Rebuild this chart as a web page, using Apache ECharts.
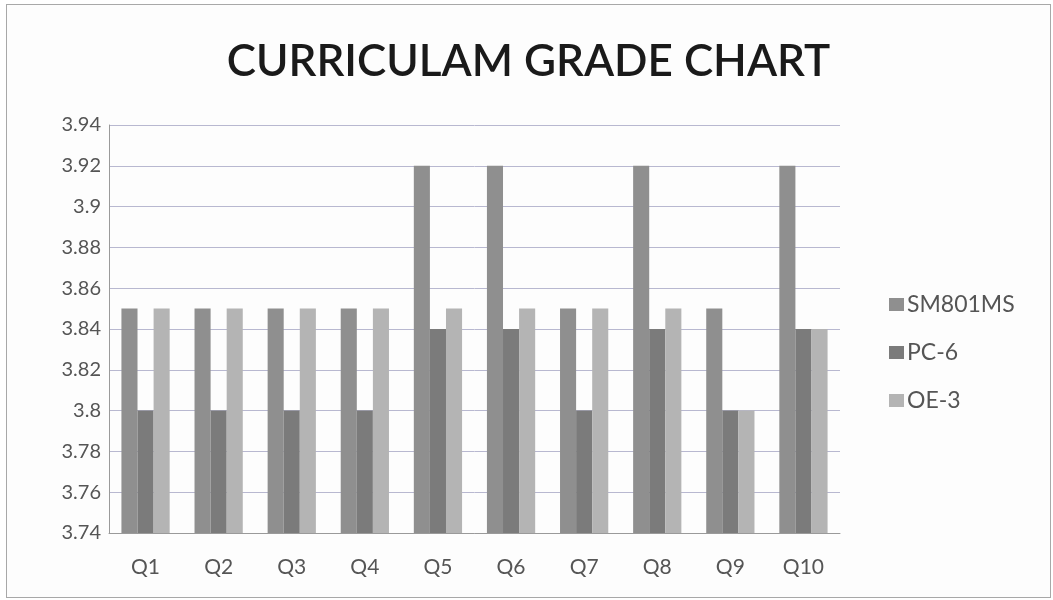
<!DOCTYPE html>
<html>
<head>
<meta charset="utf-8">
<script src="https://cdn.jsdelivr.net/npm/echarts@6/dist/echarts.min.js"></script>
<style>
  html, body { margin: 0; padding: 0; background: #ffffff; }
  #chart { position: absolute; left: 6px; top: 4px; width: 1045px; height: 594px; border: 1px solid #a8a8a8; box-sizing: border-box; background: #fdfdfd; }
</style>
</head>
<body>
<div id="chart"></div>
<script>
const categories = ['Q1', 'Q2', 'Q3', 'Q4', 'Q5', 'Q6', 'Q7', 'Q8', 'Q9', 'Q10'];
const sm801ms = [3.85, 3.85, 3.85, 3.85, 3.92, 3.92, 3.85, 3.92, 3.85, 3.92];
const pc6 = [3.80, 3.80, 3.80, 3.80, 3.84, 3.84, 3.80, 3.84, 3.80, 3.84];
const oe3 = [3.85, 3.85, 3.85, 3.85, 3.85, 3.85, 3.85, 3.85, 3.80, 3.84];

const labelFont = 'Lato, "Open Sans", sans-serif';

const option = {
  animation: false,
  title: {
    text: 'CURRICULAM GRADE CHART',
    left: 'center',
    top: 30,
    textStyle: { fontFamily: labelFont, fontSize: 44, fontWeight: 600, color: '#1a1a1a' }
  },
  color: ['#8f8f8f', '#7b7b7b', '#b4b4b4'],
  legend: {
    orient: 'vertical',
    left: 877,
    top: 283,
    itemWidth: 15,
    itemHeight: 13,
    itemGap: 25,
    icon: 'rect',
    textStyle: { fontFamily: labelFont, fontSize: 23, color: '#555', padding: [0, 0, 0, -2] },
    data: ['SM801MS', 'PC-6', 'OE-3']
  },
  grid: { left: 102, right: 210, top: 120, bottom: 64 },
  xAxis: {
    type: 'category',
    data: categories,
    axisLine: { lineStyle: { color: '#9a9a9a' } },
    axisTick: { show: false },
    axisLabel: { fontFamily: labelFont, fontSize: 21, color: '#555', margin: 24 }
  },
  yAxis: {
    type: 'value',
    min: 3.74,
    max: 3.94,
    interval: 0.02,
    axisLine: { show: true, lineStyle: { color: '#9a9a9a' } },
    axisTick: { show: false },
    axisLabel: {
      fontFamily: labelFont, fontSize: 20, color: '#555', margin: 8,
      formatter: v => String(parseFloat(v.toFixed(2)))
    },
    splitLine: { lineStyle: { color: '#b8b8d0' } }
  },
  series: [
    { name: 'SM801MS', type: 'bar', data: sm801ms, barGap: '0%', barCategoryGap: '34%' },
    { name: 'PC-6', type: 'bar', data: pc6 },
    { name: 'OE-3', type: 'bar', data: oe3 }
  ]
};

const chart = echarts.init(document.getElementById('chart'));
chart.setOption(option);
</script>
</body>
</html>
